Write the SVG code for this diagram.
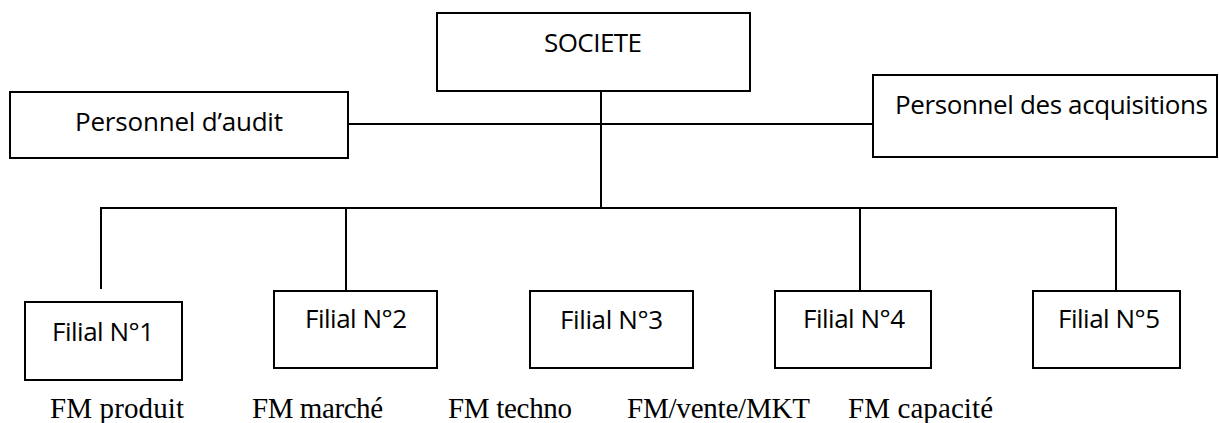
<svg xmlns="http://www.w3.org/2000/svg" width="1219" height="423" viewBox="0 0 1219 423">
<style>
.box{fill:#fff;stroke:#000;stroke-width:2}
.lbl{font-family:"Open Sans","Liberation Sans",sans-serif;font-size:26px;fill:#000}
.fm{font-family:"Liberation Serif","Times New Roman",serif;font-size:29px;fill:#000}
.ln{stroke:#000;stroke-width:2;fill:none}
</style>
<rect width="1219" height="423" fill="#fff"/>
<g id="connectors">
<line class="ln" x1="601" y1="91" x2="601" y2="208"/>
<line class="ln" x1="348" y1="124" x2="873" y2="124"/>
<line class="ln" x1="101" y1="208" x2="1116" y2="208"/>
<line class="ln" x1="101" y1="207" x2="101" y2="289"/>
<line class="ln" x1="346" y1="207" x2="346" y2="291"/>
<line class="ln" x1="860" y1="207" x2="860" y2="291"/>
<line class="ln" x1="1116" y1="207" x2="1116" y2="291"/>
</g>
<g id="societe">
<rect class="box" x="437" y="13" width="313" height="78"/>
<text class="lbl" x="544" y="52" textLength="98">SOCIETE</text>
</g>
<g id="audit">
<rect class="box" x="10" y="92" width="338" height="66"/>
<text class="lbl" x="75" y="131" textLength="208">Personnel d’audit</text>
</g>
<g id="acquisitions">
<rect class="box" x="873" y="75" width="344" height="82"/>
<text class="lbl" x="895" y="114" textLength="313">Personnel des acquisitions</text>
</g>
<g id="filial1">
<rect class="box" x="25" y="302" width="157" height="78"/>
<text class="lbl" x="52" y="341" textLength="102">Filial N°1</text>
</g>
<g id="filial2">
<rect class="box" x="274" y="291" width="163" height="77"/>
<text class="lbl" x="305" y="328" textLength="102">Filial N°2</text>
</g>
<g id="filial3">
<rect class="box" x="530" y="291" width="163" height="77"/>
<text class="lbl" x="560" y="329" textLength="103">Filial N°3</text>
</g>
<g id="filial4">
<rect class="box" x="775" y="291" width="156" height="77"/>
<text class="lbl" x="803" y="328" textLength="102">Filial N°4</text>
</g>
<g id="filial5">
<rect class="box" x="1033" y="291" width="147" height="77"/>
<text class="lbl" x="1058" y="328" textLength="102">Filial N°5</text>
</g>
<g id="fm-labels">
<text class="fm" x="50" y="418" textLength="134">FM produit</text>
<text class="fm" x="252" y="418" textLength="131">FM marché</text>
<text class="fm" x="448" y="418" textLength="124">FM techno</text>
<text class="fm" x="627" y="418" textLength="183">FM/vente/MKT</text>
<text class="fm" x="848" y="418" textLength="145">FM capacité</text>
</g>
</svg>
